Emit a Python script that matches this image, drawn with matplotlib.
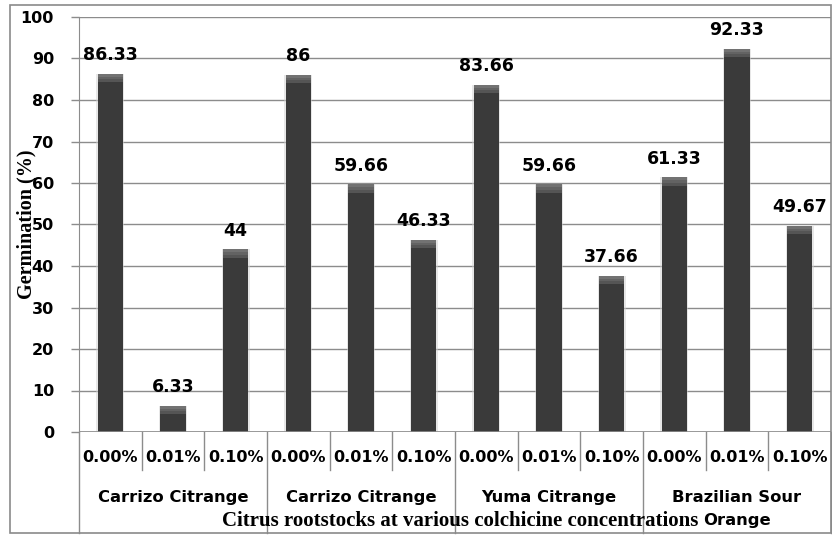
import numpy as np
import matplotlib.pyplot as plt
from matplotlib.patches import Rectangle
from matplotlib.lines import Line2D

# germination (%) for each rootstock x colchicine concentration
rootstocks = ["Carrizo Citrange", "Carrizo Citrange", "Yuma Citrange", "Brazilian Sour\nOrange"]
concs = ["0.00%", "0.01%", "0.10%"]
germ = [86.33, 6.33, 44,
        86, 59.66, 46.33,
        83.66, 59.66, 37.66,
        61.33, 92.33, 49.67]

W, H = 832, 536
fig = plt.figure(figsize=(W / 100, H / 100), dpi=100)

# outer chart frame
fig.patches.append(Rectangle((10 / W, 1 - 533 / H), (831 - 10) / W, (533 - 5) / H,
                             transform=fig.transFigure, fill=False, ec="#8a8a8a", lw=1.2))

x0, x1, ytop, ybot = 79, 831, 17, 432
ax = fig.add_axes([x0 / W, 1 - ybot / H, (x1 - x0) / W, (ybot - ytop) / H])

n = len(germ)
x = np.arange(n)
bw = 0.4

# soft shadow, main bar, then lighter cap at the top
ax.bar(x, germ, width=bw + 0.05, color="#d0d0d0", alpha=0.5, zorder=2)
ax.bar(x, germ, width=bw, color="#3a3a3a", zorder=3)
caps = [(2.0, "#555555"), (1.3, "#636363"), (0.7, "#727272")]
for h, c in caps:
    ax.bar(x, [h] * n, bottom=[g - h for g in germ], width=bw, color=c, zorder=4)

for xi, g in zip(x, germ):
    ax.annotate(f"{g:g}", (xi, g), xytext=(0, 7), textcoords="offset points",
                ha="center", va="bottom", fontsize=12.5, fontweight="bold",
                family="DejaVu Sans", color="black")

ax.set_xlim(-0.5, n - 0.5)
ax.set_ylim(0, 100)
ax.set_yticks(np.arange(0, 101, 10))
ax.yaxis.grid(True, color="#8c8c8c", lw=1)
ax.set_axisbelow(True)
ax.tick_params(axis="y", length=6, width=1, color="#8c8c8c", pad=12,
               labelsize=11.5)
for lab in ax.get_yticklabels():
    lab.set_fontweight("bold")
    lab.set_family("DejaVu Sans")
ax.set_xticks([])
for s in ["top", "right", "bottom"]:
    ax.spines[s].set_visible(False)
ax.spines["left"].set_color("#8c8c8c")
ax.axhline(0, color="#8c8c8c", lw=1.2, zorder=5)

ax.set_ylabel("Germination (%)", family="Liberation Serif", fontweight="bold",
              fontsize=14.5)
ax.yaxis.set_label_coords((36 - x0) / (x1 - x0), 0.5)

# category table under the axis
ph = ybot - ytop
def yax(py):
    return (ybot - py) / ph

for i in range(n + 1):
    xb = i - 0.5
    y_end = 533 if i % 3 == 0 else 470
    ax.add_line(Line2D([xb, xb], [0, yax(y_end)], color="#8c8c8c", lw=1,
                       transform=ax.get_xaxis_transform(), clip_on=False))

for i in range(n):
    ax.text(i, yax(458), concs[i % 3], transform=ax.get_xaxis_transform(),
            ha="center", va="center", fontsize=11.5, fontweight="bold",
            family="DejaVu Sans")

for k, name in enumerate(rootstocks):
    ax.text(3 * k + 1, yax(490), name, transform=ax.get_xaxis_transform(),
            ha="center", va="top", fontsize=11.8, fontweight="bold",
            family="DejaVu Sans", linespacing=1.7)

ax.text(0.54 * (n - 1) - 0.35, yax(521),
        "Citrus rootstocks at various colchicine concentrations",
        transform=ax.get_xaxis_transform(), ha="center", va="center",
        fontsize=15, fontweight="bold", family="Liberation Serif")

fig.savefig("out.png", dpi=100)
